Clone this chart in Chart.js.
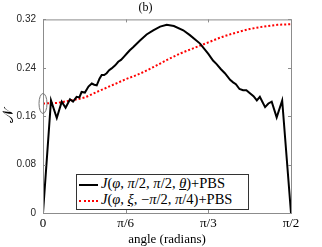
<!DOCTYPE html>
<html>
<head>
<meta charset="utf-8">
<script src="https://cdn.jsdelivr.net/npm/chart.js@4.4.1/dist/chart.umd.min.js"></script>
<style>
  html, body { margin: 0; padding: 0; background: #fff; }
  #wrap { position: relative; width: 322px; height: 247px; }
  #legend {
    position: absolute; left: 76px; top: 174px; width: 171px; height: 34px;
    border: 1px solid #333; background: #fff;
    font-family: 'Liberation Serif', serif; font-size: 14.5px; color: #000;
  }
  .row { position: absolute; left: 2px; height: 17px; line-height: 17px; white-space: nowrap; }
  .swatch { display: inline-block; width: 19px; vertical-align: middle; margin-right: 3px; }
  .u { text-decoration: underline; }
</style>
</head>
<body>
<div id="wrap">
  <canvas id="c" width="322" height="247"></canvas>
  <div id="legend">
    <div class="row" style="top:0px"><span class="swatch" style="border-top:2px solid #000"></span><i>J</i>(<i>φ</i>, <i>π</i>/2, <i>π</i>/2, <i class="u">θ</i>)+PBS</div>
    <div class="row" style="top:16px"><span class="swatch" style="border-top:2px dotted #f00"></span><i>J</i>(<i>φ</i>, <i class="u">ξ</i>, −<i>π</i>/2, <i>π</i>/4)+PBS</div>
  </div>
</div>
<script>
// angles in degrees (0 .. 90 = pi/2)
const blackAngles = [0, 2.9, 5.0, 6.8, 8.2, 9.8, 10.9, 12.2, 13.2, 14.0, 15.2, 16.5, 17.7, 18.6, 19.5, 20.5, 21.3, 22.2, 23.1, 24.0, 24.9, 26.2, 27.3, 28.3, 29.5, 30.5, 31.5, 32.7, 35.2, 37.6, 40.0, 42.5, 44.9, 47.5, 50.9, 53.3, 57.0, 60.0, 61.7, 63.0, 64.5, 66.0, 67.9, 69.0, 70.0, 71.3, 72.6, 73.8, 75.1, 76.4, 77.6, 78.7, 79.6, 80.6, 81.8, 83.0, 84.8, 86.8, 90];
const blackValues = [0, 0.186, 0.157, 0.184, 0.174, 0.188, 0.184, 0.192, 0.191, 0.200, 0.199, 0.209, 0.214, 0.212, 0.211, 0.222, 0.228, 0.228, 0.231, 0.236, 0.239, 0.244, 0.250, 0.253, 0.259, 0.264, 0.269, 0.274, 0.285, 0.295, 0.302, 0.308, 0.311, 0.309, 0.302, 0.294, 0.280, 0.263, 0.252, 0.246, 0.238, 0.231, 0.220, 0.216, 0.213, 0.205, 0.203, 0.203, 0.198, 0.193, 0.186, 0.192, 0.184, 0.175, 0.181, 0.184, 0.158, 0.186, 0];
const redAngles = [0, 5, 10, 15, 20, 25, 30, 35, 40, 45, 50, 55, 60, 65, 70, 75, 80, 85, 90];
const redValues = [0.181, 0.182, 0.186, 0.191, 0.201, 0.211, 0.221, 0.230, 0.241, 0.253, 0.264, 0.273, 0.282, 0.291, 0.298, 0.304, 0.308, 0.311, 0.312];
const xTicks = [0, 30, 60, 90];
const xTickLabels = ['0', 'π/6', 'π/3', 'π/2'];
const yTicks = [0, 0.08, 0.16, 0.24, 0.32];
const yTickLabels = ['0', '0.08', '0.16', '0.24', '0.32'];

const toXY = (xs, ys) => xs.map((x, i) => ({ x: x, y: ys[i] }));

// box frame, inward ticks (MATLAB style) and the ellipse marker
const framePlugin = {
  id: 'frame',
  afterDraw(chart) {
    const { ctx, chartArea: a, scales: { x, y } } = chart;
    ctx.save();
    ctx.strokeStyle = '#8c8c8c';
    ctx.lineWidth = 1;
    ctx.strokeRect(a.left + 0.5, a.top + 0.5, a.right - a.left, a.bottom - a.top);
    ctx.beginPath();
    xTicks.forEach(v => {
      const px = Math.round(x.getPixelForValue(v)) + 0.5;
      ctx.moveTo(px, a.bottom); ctx.lineTo(px, a.bottom - 3);
      ctx.moveTo(px, a.top); ctx.lineTo(px, a.top + 3);
    });
    yTicks.forEach(v => {
      const py = Math.round(y.getPixelForValue(v)) + 0.5;
      ctx.moveTo(a.left, py); ctx.lineTo(a.left + 3, py);
      ctx.moveTo(a.right, py); ctx.lineTo(a.right - 3, py);
    });
    ctx.stroke();
    // ellipse round the common starting point
    const cx = x.getPixelForValue(0), cy = y.getPixelForValue(0.181);
    const ry = Math.abs(y.getPixelForValue(0.181 + 0.0165) - cy);
    ctx.strokeStyle = '#777';
    ctx.beginPath();
    ctx.ellipse(cx, cy, 4, ry, 0, 0, Math.PI * 2);
    ctx.stroke();
    ctx.restore();
  }
};

new Chart(document.getElementById('c'), {
  type: 'line',
  data: {
    datasets: [
      {
        label: 'black',
        data: toXY(blackAngles, blackValues),
        borderColor: '#000',
        borderWidth: 2,
        pointRadius: 0,
        tension: 0
      },
      {
        label: 'red',
        data: toXY(redAngles, redValues),
        borderColor: '#ff0000',
        borderWidth: 2,
        borderDash: [2, 2],
        pointRadius: 0,
        cubicInterpolationMode: 'monotone'
      }
    ]
  },
  options: {
    responsive: false,
    animation: false,
    layout: { padding: { right: 31, left: 0, bottom: 0 } },
    plugins: {
      legend: { display: false },
      tooltip: { enabled: false },
      title: {
        display: true,
        text: '(b)',
        color: '#000',
        font: { family: 'Liberation Serif', size: 12, weight: 'normal' },
        padding: { top: 1, bottom: 4 }
      }
    },
    scales: {
      x: {
        type: 'linear',
        min: 0, max: 90,
        afterBuildTicks: s => { s.ticks = xTicks.map(v => ({ value: v })); },
        afterFit: s => { s.height = 34; },
        grid: { display: false, drawTicks: false },
        border: { display: false },
        ticks: {
          callback: (v) => xTickLabels[xTicks.indexOf(v)],
          color: '#000',
          padding: 3,
          maxRotation: 0,
          font: { family: 'Liberation Serif', size: 13 }
        },
        title: {
          display: true,
          text: 'angle (radians)',
          color: '#000',
          padding: 0,
          font: { family: 'Liberation Serif', size: 13 }
        }
      },
      y: {
        min: 0, max: 0.32,
        afterBuildTicks: s => { s.ticks = yTicks.map(v => ({ value: v })); },
        afterFit: s => { s.width = 43; },
        grid: { display: false, drawTicks: false },
        border: { display: false },
        ticks: {
          callback: (v) => yTickLabels[yTicks.indexOf(v)],
          color: '#262626',
          padding: 7,
          font: { family: 'Liberation Sans', size: 10 }
        },
        title: {
          display: true,
          text: '𝒩',
          color: '#000',
          padding: 0,
          font: { family: 'DejaVu Serif', size: 15 }
        }
      }
    }
  },
  plugins: [framePlugin]
});
</script>
</body>
</html>
